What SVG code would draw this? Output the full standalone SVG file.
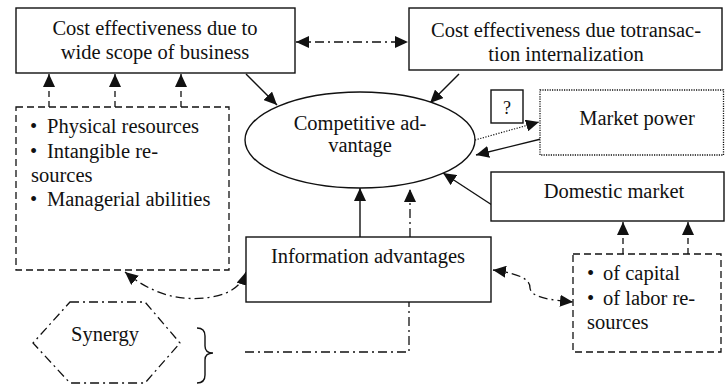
<svg xmlns="http://www.w3.org/2000/svg" width="725" height="385" viewBox="0 0 725 385">
  <style>
    text { font-family: "Liberation Serif", "Times New Roman", serif; font-size: 20.5px; fill: #111; }
    .c { text-anchor: middle; }
    .box { fill: #fff; stroke: #111; stroke-width: 1.4; }
    .dash { fill: #fff; stroke: #111; stroke-width: 1.3; stroke-dasharray: 7 4; }
    .dot { fill: #fff; stroke: #111; stroke-width: 1.3; stroke-dasharray: 1.2 1.2; }
    .dd { fill: none; stroke: #111; stroke-width: 1.3; stroke-dasharray: 9 4 2 4; }
    .ln { fill: none; stroke: #111; stroke-width: 1.4; }
    .dl { fill: none; stroke: #111; stroke-width: 1.3; stroke-dasharray: 6 4; }
    .dt { fill: none; stroke: #111; stroke-width: 1.2; stroke-dasharray: 1.2 1.5; }
  </style>
  <defs>
    <marker id="arr" markerUnits="userSpaceOnUse" viewBox="0 0 13 12" markerWidth="13" markerHeight="12" refX="13" refY="6" orient="auto-start-reverse">
      <path d="M0,0 L13,6 L0,12 Z" fill="#111"/>
    </marker>
  </defs>

  <!-- connectors -->
  <g id="connectors">
    <!-- between the two cost boxes -->
    <line class="dd" x1="296" y1="42" x2="408" y2="42" marker-start="url(#arr)" marker-end="url(#arr)"/>
    <!-- cost boxes to competitive advantage -->
    <line class="ln" x1="246" y1="74" x2="277" y2="105" marker-end="url(#arr)"/>
    <line class="ln" x1="459" y1="74" x2="430" y2="103" marker-end="url(#arr)"/>
    <!-- resources to scope box -->
    <line class="dl" x1="49" y1="107" x2="49" y2="74" marker-end="url(#arr)"/>
    <line class="dl" x1="115" y1="107" x2="115" y2="74" marker-end="url(#arr)"/>
    <line class="dl" x1="181" y1="107" x2="181" y2="74" marker-end="url(#arr)"/>
    <!-- market power links -->
    <line class="dt" x1="475" y1="140" x2="539" y2="122" marker-end="url(#arr)"/>
    <line class="ln" x1="541" y1="139" x2="476" y2="155" marker-end="url(#arr)"/>
    <!-- domestic market to competitive advantage -->
    <line class="ln" x1="492" y1="205" x2="443" y2="173" marker-end="url(#arr)"/>
    <!-- information advantages to competitive advantage -->
    <line class="ln" x1="360" y1="237" x2="360" y2="188" marker-end="url(#arr)"/>
    <line class="dd" x1="410" y1="237" x2="410" y2="189" marker-end="url(#arr)"/>
    <!-- synergy link -->
    <polyline class="dd" points="245,352 409,352 409,302"/>
    <!-- curved double links -->
    <path class="dd" d="M125,272 Q165,305 212,297 Q240,292 246,272" marker-start="url(#arr)" marker-end="url(#arr)"/>
    <path class="dd" d="M493,270 C522,274 530,280 530,288 C531,298 552,300 573,302" marker-start="url(#arr)" marker-end="url(#arr)"/>
    <!-- domestic factors to domestic market -->
    <line class="dl" x1="623" y1="254" x2="623" y2="222" marker-end="url(#arr)"/>
    <line class="dl" x1="688" y1="254" x2="688" y2="222" marker-end="url(#arr)"/>
    <!-- brace -->
    <path class="ln" d="M197,328 Q205,328 205,336 L205,346 Q205,353 213,353 Q205,353 205,360 L205,375 Q205,383 197,383"/>
  </g>

  <g id="scope">
    <rect class="box" x="16" y="8" width="279" height="65"/>
    <text class="c" x="155" y="35">Cost effectiveness due to</text>
    <text class="c" x="155" y="59">wide scope of business</text>
  </g>

  <g id="internalization">
    <rect class="box" x="409" y="8" width="313" height="62"/>
    <text class="c" x="566" y="37">Cost effectiveness due totransac-</text>
    <text class="c" x="566" y="61">tion internalization</text>
  </g>

  <g id="advantage">
    <ellipse class="box" cx="360" cy="140" rx="115" ry="48"/>
    <text class="c" x="360" y="130">Competitive ad-</text>
    <text class="c" x="360" y="152">vantage</text>
  </g>

  <g id="question">
    <rect class="box" x="491" y="90" width="32" height="33"/>
    <text class="c" x="507" y="114" style="font-size:18px">?</text>
  </g>

  <g id="market-power">
    <rect class="dot" x="540" y="90" width="183.5" height="65"/>
    <text class="c" x="637" y="125">Market power</text>
  </g>

  <g id="domestic-market">
    <rect class="box" x="491" y="172" width="233" height="49"/>
    <text class="c" x="614" y="198">Domestic market</text>
  </g>

  <g id="resources">
    <rect class="dash" x="16" y="107" width="213" height="163"/>
    <text x="30" y="133">•<tspan x="47">Physical resources</tspan></text>
    <text x="30" y="158">•<tspan x="47">Intangible re-</tspan></text>
    <text x="31" y="182">sources</text>
    <text x="30" y="206">•<tspan x="47">Managerial abilities</tspan></text>
  </g>

  <g id="information">
    <rect class="box" x="246" y="237" width="245" height="65"/>
    <text class="c" x="368" y="263">Information advantages</text>
  </g>

  <g id="domestic-factors">
    <rect class="dash" x="573" y="254" width="148" height="98"/>
    <text x="587" y="280">•<tspan x="603">of capital</tspan></text>
    <text x="587" y="305">•<tspan x="603">of labor re-</tspan></text>
    <text x="587" y="329">sources</text>
  </g>

  <g id="synergy">
    <polygon class="dd" points="70,302 145,302 180,343 145,383 70,383 33,343"/>
    <text class="c" x="105" y="341">Synergy</text>
  </g>
</svg>
